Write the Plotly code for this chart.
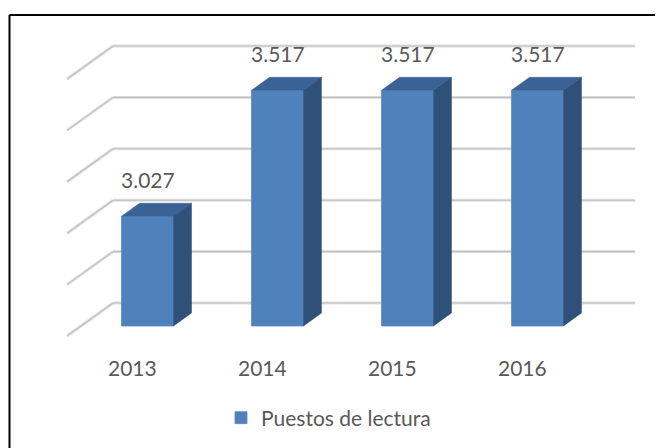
import plotly.graph_objects as go

# ---- data ----
categories = ["2013", "2014", "2015", "2016"]
values = [3027, 3517, 3517, 3517]
series_name = "Puestos de lectura"
grid_values = [2600, 2800, 3000, 3200, 3400, 3600]

# ---- geometry / scale (styling) ----
OFF = 8                  # browser body margin
W, H = 663 - OFF, 448 - OFF
PX_PER_CAT = 130.0       # pixels per category step
PX_PER_VAL = 0.257       # pixels per value unit
X0_PX = 147.5 - OFF      # pixel x of category 0 centre (front plane)
Y0_PX = 326.0 - OFF      # pixel y of axis base (front plane)
BASE = grid_values[0]
BAR_W = 0.4


def ux(px):
    return px / PX_PER_CAT


def uy(px):
    return px / PX_PER_VAL


x_range = [-X0_PX / PX_PER_CAT, (W - X0_PX) / PX_PER_CAT]
y_range = [BASE - (H - Y0_PX) / PX_PER_VAL, BASE + Y0_PX / PX_PER_VAL]

# 3D offsets (pixels)
WALL_DX, WALL_DY = 32, 23     # bar front plane -> back wall
FLOOR_DX, FLOOR_DY = 46, 33   # floor front edge -> back wall
BAR_DX, BAR_DY = 18, 13       # bar depth
wall_left = -0.265
wall_right = 3.75

FRONT = "#4F81BD"
TOP = "#3B6295"
SIDE = "#2F5079"
TXT = "#595959"
FONT = "Lato, Liberation Sans, sans-serif"

xs = list(range(len(categories)))

fig = go.Figure()

# front faces
fig.add_trace(go.Bar(
    x=xs, y=[v - BASE for v in values], base=BASE, width=BAR_W,
    marker=dict(color=FRONT, line=dict(color="#5B8BC6", width=0.8)),
    name=series_name, showlegend=True, hoverinfo="skip"))

# top faces and side faces
top_x, top_y, side_x, side_y = [], [], [], []
for i, v in zip(xs, values):
    l, r = i - BAR_W / 2, i + BAR_W / 2
    top_x += [l, r, r + ux(BAR_DX), l + ux(BAR_DX), l, None]
    top_y += [v, v, v + uy(BAR_DY), v + uy(BAR_DY), v, None]
    side_x += [r, r + ux(BAR_DX), r + ux(BAR_DX), r, r, None]
    side_y += [BASE, BASE + uy(BAR_DY), v + uy(BAR_DY), v, BASE, None]

fig.add_trace(go.Scatter(x=top_x, y=top_y, mode="lines", fill="toself",
                         fillcolor=TOP, line=dict(color=TOP, width=0.5),
                         showlegend=False, hoverinfo="skip"))
fig.add_trace(go.Scatter(x=side_x, y=side_y, mode="lines", fill="toself",
                         fillcolor=SIDE, line=dict(color=SIDE, width=0.5),
                         showlegend=False, hoverinfo="skip"))

# gridlines on back wall + side wall diagonals
shapes = []
for g in grid_values:
    yb = g + uy(WALL_DY)
    yf = yb - uy(FLOOR_DY)
    xl = wall_left
    xf = wall_left - ux(FLOOR_DX)
    for col, wdt in (("#E0E0E0", 3.0), ("#C0C0C0", 1.1)):
        shapes.append(dict(type="line", xref="x", yref="y", x0=xl, y0=yb,
                           x1=wall_right, y1=yb, layer="below",
                           line=dict(color=col, width=wdt)))
        shapes.append(dict(type="line", xref="x", yref="y", x0=xf, y0=yf,
                           x1=xl, y1=yb, layer="below",
                           line=dict(color=col, width=wdt)))

# chart frame: only left and top edges fall inside the picture
fx = (9.5 - OFF) / W
fy = 1 - (15 - OFF) / H
shapes.append(dict(type="line", xref="paper", yref="paper",
                   x0=fx, y0=fy, x1=1.0, y1=fy,
                   line=dict(color="black", width=2), layer="above"))
shapes.append(dict(type="line", xref="paper", yref="paper",
                   x0=fx, y0=fy, x1=fx, y1=0.0,
                   line=dict(color="black", width=2), layer="above"))

annotations = []
# value labels
for i, v in zip(xs, values):
    annotations.append(dict(x=i, y=v, xref="x", yref="y",
                            text=f"{v:,}".replace(",", "."),
                            showarrow=False, yshift=37, yanchor="middle",
                            font=dict(family=FONT, size=21, color=TXT)))
# category labels at floor front edge
for i, c in zip(xs, categories):
    annotations.append(dict(x=i - ux(15), y=BASE, xref="x", yref="y",
                            text=c, showarrow=False, yshift=-41,
                            yanchor="middle",
                            font=dict(family=FONT, size=21, color=TXT)))

fig.update_layout(
    width=W, height=H,
    margin=dict(l=0, r=0, t=0, b=0),
    paper_bgcolor="white", plot_bgcolor="white",
    xaxis=dict(range=x_range, visible=False, fixedrange=True),
    yaxis=dict(range=y_range, visible=False, fixedrange=True),
    shapes=shapes, annotations=annotations,
    showlegend=True,
    legend=dict(orientation="h", x=(221 - OFF) / W, y=1 - (418 - OFF) / H,
                xanchor="left", yanchor="middle",
                font=dict(family=FONT, size=21, color=TXT),
                bgcolor="rgba(0,0,0,0)"),
    font=dict(family=FONT, color=TXT),
)

fig.write_html("out.html")
